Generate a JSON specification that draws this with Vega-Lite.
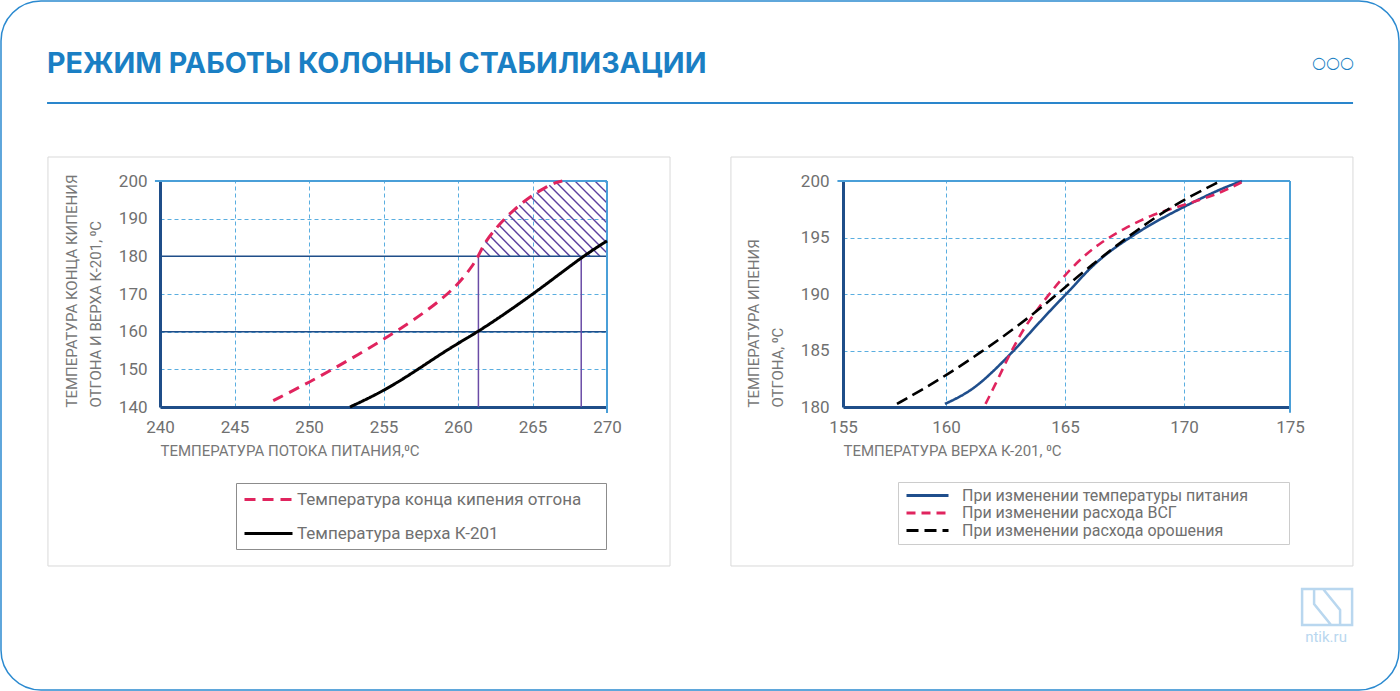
{
  "$schema": "https://vega.github.io/schema/vega-lite/v6.json",
  "width": 1398,
  "height": 689,
  "padding": 1,
  "autosize": {"type": "none"},
  "background": "white",
  "config": {
    "font": "Roboto",
    "view": {"stroke": "#2b8ad0", "strokeWidth": 1.5, "cornerRadius": 40},
    "axis": {"labelFont": "Roboto", "labelFontSize": 17, "labelColor": "#707070", "titleFont": "Roboto", "titleFontSize": 15, "titleColor": "#777777", "titleFontWeight": "normal", "labelFlush": false, "labelOverlap": false}
  },
  "title": {"text": "РЕЖИМ РАБОТЫ КОЛОННЫ СТАБИЛИЗАЦИИ", "anchor": "start", "frame": "group", "orient": "top", "offset": -101, "baseline": "alphabetic", "dx": 46, "fontSize": 28.6, "fontWeight": "bold", "color": "#1a7fc4", "font": "Inter"},
  "datasets": {
    "left": [
      {"series": "Температура конца кипения отгона", "x": 247.6, "y": 141.7},
      {"series": "Температура конца кипения отгона", "x": 250.0, "y": 146.5},
      {"series": "Температура конца кипения отгона", "x": 252.75, "y": 152.6},
      {"series": "Температура конца кипения отгона", "x": 255.5, "y": 159.1},
      {"series": "Температура конца кипения отгона", "x": 258.0, "y": 165.7},
      {"series": "Температура конца кипения отгона", "x": 259.9, "y": 171.9},
      {"series": "Температура конца кипения отгона", "x": 261.0, "y": 177.6},
      {"series": "Температура конца кипения отгона", "x": 261.4, "y": 180.3},
      {"series": "Температура конца кипения отгона", "x": 261.8, "y": 183.8},
      {"series": "Температура конца кипения отгона", "x": 262.8, "y": 188.7},
      {"series": "Температура конца кипения отгона", "x": 263.7, "y": 192.2},
      {"series": "Температура конца кипения отгона", "x": 264.8, "y": 195.8},
      {"series": "Температура конца кипения отгона", "x": 265.9, "y": 198.4},
      {"series": "Температура конца кипения отгона", "x": 266.6, "y": 199.7},
      {"series": "Температура конца кипения отгона", "x": 267.0, "y": 200.0},
      {"series": "Температура верха К-201", "x": 252.75, "y": 140.0},
      {"series": "Температура верха К-201", "x": 254.95, "y": 144.1},
      {"series": "Температура верха К-201", "x": 257.1, "y": 149.4},
      {"series": "Температура верха К-201", "x": 259.3, "y": 155.3},
      {"series": "Температура верха К-201", "x": 261.4, "y": 160.1},
      {"series": "Температура верха К-201", "x": 263.5, "y": 165.7},
      {"series": "Температура верха К-201", "x": 265.7, "y": 171.9},
      {"series": "Температура верха К-201", "x": 268.3, "y": 179.8},
      {"series": "Температура верха К-201", "x": 270.0, "y": 184.1}
    ],
    "hatch": [
      {"x": 261.62, "y": 182.18, "x2": 262.15, "y2": 180},
      {"x": 261.83, "y": 183.99, "x2": 262.82, "y2": 180},
      {"x": 262.13, "y": 185.45, "x2": 263.49, "y2": 180},
      {"x": 262.43, "y": 186.91, "x2": 264.16, "y2": 180},
      {"x": 262.73, "y": 188.39, "x2": 264.83, "y2": 180},
      {"x": 263.06, "y": 189.75, "x2": 265.50, "y2": 180},
      {"x": 263.40, "y": 191.05, "x2": 266.17, "y2": 180},
      {"x": 263.74, "y": 192.35, "x2": 266.85, "y2": 180},
      {"x": 264.11, "y": 193.57, "x2": 267.52, "y2": 180},
      {"x": 264.48, "y": 194.77, "x2": 268.19, "y2": 180},
      {"x": 264.85, "y": 195.93, "x2": 268.86, "y2": 180},
      {"x": 265.27, "y": 196.94, "x2": 269.53, "y2": 180},
      {"x": 265.69, "y": 197.93, "x2": 270.0, "y2": 180.88},
      {"x": 266.13, "y": 198.85, "x2": 270.0, "y2": 183.54},
      {"x": 266.59, "y": 199.67, "x2": 270.0, "y2": 186.19},
      {"x": 267.18, "y": 200.0, "x2": 270.0, "y2": 188.85},
      {"x": 267.85, "y": 200.0, "x2": 270.0, "y2": 191.50},
      {"x": 268.52, "y": 200.0, "x2": 270.0, "y2": 194.16},
      {"x": 269.19, "y": 200.0, "x2": 270.0, "y2": 196.81},
      {"x": 269.87, "y": 200.0, "x2": 270.0, "y2": 199.47}
    ],
    "levels": [{"y": 160}, {"y": 180}],
    "cuts": [{"x": 261.37}, {"x": 268.27}],
    "right": [
      {"series": "При изменении температуры питания", "x": 159.95, "y": 180.27},
      {"series": "При изменении температуры питания", "x": 160.98, "y": 181.3},
      {"series": "При изменении температуры питания", "x": 161.87, "y": 182.9},
      {"series": "При изменении температуры питания", "x": 162.86, "y": 185.0},
      {"series": "При изменении температуры питания", "x": 163.67, "y": 186.9},
      {"series": "При изменении температуры питания", "x": 164.47, "y": 188.75},
      {"series": "При изменении температуры питания", "x": 165.29, "y": 190.5},
      {"series": "При изменении температуры питания", "x": 165.95, "y": 192.1},
      {"series": "При изменении температуры питания", "x": 166.75, "y": 193.6},
      {"series": "При изменении температуры питания", "x": 167.72, "y": 195.0},
      {"series": "При изменении температуры питания", "x": 168.63, "y": 196.2},
      {"series": "При изменении температуры питания", "x": 169.70, "y": 197.4},
      {"series": "При изменении температуры питания", "x": 170.73, "y": 198.4},
      {"series": "При изменении температуры питания", "x": 171.80, "y": 199.35},
      {"series": "При изменении температуры питания", "x": 172.73, "y": 200.0},
      {"series": "При изменении расхода ВСГ", "x": 161.66, "y": 180.27},
      {"series": "При изменении расхода ВСГ", "x": 162.10, "y": 182.1},
      {"series": "При изменении расхода ВСГ", "x": 162.49, "y": 183.86},
      {"series": "При изменении расхода ВСГ", "x": 162.88, "y": 185.48},
      {"series": "При изменении расхода ВСГ", "x": 163.36, "y": 187.25},
      {"series": "При изменении расхода ВСГ", "x": 163.92, "y": 188.87},
      {"series": "При изменении расхода ВСГ", "x": 164.47, "y": 190.34},
      {"series": "При изменении расхода ВСГ", "x": 165.03, "y": 191.75},
      {"series": "При изменении расхода ВСГ", "x": 165.74, "y": 193.28},
      {"series": "При изменении расхода ВСГ", "x": 166.53, "y": 194.6},
      {"series": "При изменении расхода ВСГ", "x": 167.48, "y": 195.79},
      {"series": "При изменении расхода ВСГ", "x": 168.60, "y": 196.97},
      {"series": "При изменении расхода ВСГ", "x": 169.70, "y": 197.7},
      {"series": "При изменении расхода ВСГ", "x": 170.73, "y": 198.3},
      {"series": "При изменении расхода ВСГ", "x": 171.80, "y": 199.03},
      {"series": "При изменении расхода ВСГ", "x": 172.73, "y": 199.9},
      {"series": "При изменении расхода орошения", "x": 157.62, "y": 180.27},
      {"series": "При изменении расхода орошения", "x": 158.75, "y": 181.44},
      {"series": "При изменении расхода орошения", "x": 160.03, "y": 182.83},
      {"series": "При изменении расхода орошения", "x": 161.46, "y": 184.83},
      {"series": "При изменении расхода орошения", "x": 162.88, "y": 186.95},
      {"series": "При изменении расхода орошения", "x": 164.31, "y": 189.3},
      {"series": "При изменении расхода орошения", "x": 165.26, "y": 191.08},
      {"series": "При изменении расхода орошения", "x": 166.21, "y": 192.7},
      {"series": "При изменении расхода орошения", "x": 167.17, "y": 194.3},
      {"series": "При изменении расхода орошения", "x": 168.12, "y": 195.79},
      {"series": "При изменении расхода орошения", "x": 169.23, "y": 197.4},
      {"series": "При изменении расхода орошения", "x": 170.38, "y": 198.73},
      {"series": "При изменении расхода орошения", "x": 171.62, "y": 199.9}
    ]
  },
  "layer": [
    {
      "resolve": {"axis": {"x": "independent", "y": "independent"}},
      "layer": [
        {
          "data": {"values": [{}]},
          "mark": {"type": "rect", "fill": "transparent", "stroke": "#d9d9d9", "strokeWidth": 1},
          "encoding": {
            "x": {"datum": 232.48, "type": "quantitative", "scale": {"domain": [240, 270], "range": [159, 606], "nice": false, "zero": false},
              "axis": {"orient": "top", "values": [245, 250, 255, 260, 265], "grid": true, "gridColor": "#5aaee0", "gridDash": [4, 3], "gridWidth": 1, "labels": false, "domain": false, "ticks": false, "title": null}},
            "x2": {"datum": 274.23},
            "y": {"datum": 206.37, "type": "quantitative", "scale": {"domain": [140, 200], "range": [406, 180], "nice": false, "zero": false}, "axis": null},
            "y2": {"datum": 97.79}
          }
        },
        {
          "data": {"values": [{}]},
          "mark": {"type": "rule", "stroke": "#2a86cc", "strokeWidth": 2},
          "encoding": {
            "x": {"datum": 232.42, "type": "quantitative", "scale": {"domain": [240, 270], "range": [159, 606], "nice": false, "zero": false}, "axis": null},
            "x2": {"datum": 320.07},
            "y": {"datum": 220.71, "type": "quantitative", "scale": {"domain": [140, 200], "range": [406, 180], "nice": false, "zero": false}, "axis": null}
          }
        },
        {
          "data": {"name": "hatch"},
          "mark": {"type": "rule", "stroke": "#5b3f9e", "strokeWidth": 1.4},
          "encoding": {
            "x": {"field": "x", "type": "quantitative", "scale": {"domain": [240, 270], "range": [159, 606], "nice": false, "zero": false}, "axis": null},
            "x2": {"field": "x2"},
            "y": {"field": "y", "type": "quantitative", "scale": {"domain": [140, 200], "range": [406, 180], "nice": false, "zero": false}, "axis": null},
            "y2": {"field": "y2"}
          }
        },
        {
          "data": {"name": "levels"},
          "mark": {"type": "rule", "stroke": "#1f4e89", "strokeWidth": 1.5},
          "encoding": {
            "x": {"datum": 240, "type": "quantitative", "scale": {"domain": [240, 270], "range": [159, 606], "nice": false, "zero": false}, "axis": null},
            "x2": {"datum": 270},
            "y": {"field": "y", "type": "quantitative", "scale": {"domain": [140, 200], "range": [406, 180], "nice": false, "zero": false}, "axis": null}
          }
        },
        {
          "data": {"name": "cuts"},
          "mark": {"type": "rule", "stroke": "#6a4ca6", "strokeWidth": 1.5},
          "encoding": {
            "x": {"field": "x", "type": "quantitative", "scale": {"domain": [240, 270], "range": [159, 606], "nice": false, "zero": false}, "axis": null},
            "y": {"datum": 140, "type": "quantitative", "scale": {"domain": [140, 200], "range": [406, 180], "nice": false, "zero": false}, "axis": null},
            "y2": {"datum": 180}
          }
        },
        {
          "data": {"values": [{}]},
          "mark": {"type": "rule", "stroke": "#4a9fd8", "strokeWidth": 2},
          "encoding": {
            "x": {"datum": 239.66, "type": "quantitative", "scale": {"domain": [240, 270], "range": [159, 606], "nice": false, "zero": false}, "axis": null},
            "x2": {"datum": 270},
            "y": {"datum": 200, "type": "quantitative", "scale": {"domain": [140, 200], "range": [406, 180], "nice": false, "zero": false}, "axis": null}
          }
        },
        {
          "data": {"values": [{}]},
          "mark": {"type": "rule", "stroke": "#4a9fd8", "strokeWidth": 2},
          "encoding": {
            "x": {"datum": 270, "type": "quantitative", "scale": {"domain": [240, 270], "range": [159, 606], "nice": false, "zero": false}, "axis": null},
            "y": {"datum": 138.4, "type": "quantitative", "scale": {"domain": [140, 200], "range": [406, 180], "nice": false, "zero": false}, "axis": null},
            "y2": {"datum": 200}
          }
        },
        {
          "data": {"name": "left"},
          "mark": {"type": "line", "strokeWidth": 3, "interpolate": "basis"},
          "encoding": {
            "x": {"field": "x", "type": "quantitative", "scale": {"domain": [240, 270], "range": [159, 606], "nice": false, "zero": false},
              "axis": {"orient": "bottom", "offset": -283, "values": [240, 245, 250, 255, 260, 265, 270], "domainColor": "#1f4e89", "domainWidth": 3, "ticks": false, "labelPadding": 12, "grid": false, "title": "ТЕМПЕРАТУРА ПОТОКА ПИТАНИЯ,⁰С", "titleAnchor": "start", "titlePadding": 8}},
            "y": {"field": "y", "type": "quantitative", "scale": {"domain": [140, 200], "range": [406, 180], "nice": false, "zero": false},
              "axis": {"orient": "left", "offset": -159, "values": [140, 150, 160, 170, 180, 190, 200], "domainColor": "#1f4e89", "domainWidth": 3, "ticks": false, "labelPadding": 13, "grid": true, "gridColor": "#5aaee0", "gridDash": [4, 3], "gridWidth": 1, "title": ["ТЕМПЕРАТУРА КОНЦА КИПЕНИЯ", "ОТГОНА И ВЕРХА К-201, ⁰С"], "titleAnchor": "start", "titlePadding": 15, "titleLineHeight": 24}},
            "color": {"field": "series", "type": "nominal",
              "scale": {"domain": ["Температура конца кипения отгона", "Температура верха К-201"], "range": ["#e0245e", "#000000"]},
              "legend": {"orient": "none", "legendX": 235, "legendY": 482, "title": null, "symbolType": "M-1,0H5", "symbolSize": 256, "symbolStrokeWidth": 3, "labelFontSize": 17, "labelColor": "#707070", "labelFont": "Roboto", "strokeColor": "#8c8c8c", "padding": 7, "rowPadding": 16, "labelOffset": 35, "labelLimit": 0, "labelExpr": "datum.label + '\u00a0\u00a0\u00a0\u00a0\u200b'"}},
            "strokeDash": {"field": "series", "type": "nominal",
              "scale": {"domain": ["Температура конца кипения отгона", "Температура верха К-201"], "range": [[11, 7], [1, 0]]},
              "legend": {"orient": "none", "legendX": 235, "legendY": 482, "title": null, "symbolType": "M-1,0H5", "symbolSize": 256, "symbolStrokeWidth": 3, "labelFontSize": 17, "labelColor": "#707070", "labelFont": "Roboto", "strokeColor": "#8c8c8c", "padding": 7, "rowPadding": 16, "labelOffset": 35, "labelLimit": 0, "labelExpr": "datum.label + '\u00a0\u00a0\u00a0\u00a0\u200b'"}}
          }
        }
      ]
    },
    {
      "resolve": {"axis": {"x": "independent", "y": "independent"}},
      "layer": [
        {
          "data": {"values": [{}]},
          "mark": {"type": "rect", "fill": "transparent", "stroke": "#d9d9d9", "strokeWidth": 1},
          "encoding": {
            "x": {"datum": 149.56, "type": "quantitative", "scale": {"domain": [155, 160, 165, 170, 175], "range": [842, 945, 1064, 1183, 1289], "nice": false, "zero": false},
              "axis": {"orient": "top", "values": [160, 165, 170], "grid": true, "gridColor": "#5aaee0", "gridDash": [4, 3], "gridWidth": 1, "labels": false, "domain": false, "ticks": false, "title": null}},
            "x2": {"datum": 177.97},
            "y": {"datum": 202.12, "type": "quantitative", "scale": {"domain": [180, 200], "range": [406, 180], "nice": false, "zero": false}, "axis": null},
            "y2": {"datum": 165.93}
          }
        },
        {
          "data": {"values": [{}]},
          "mark": {"type": "text", "text": "○○○", "font": "DejaVu Sans", "fontSize": 16, "color": "#1a7fc4", "align": "center", "baseline": "middle"},
          "encoding": {
            "x": {"datum": 177.03, "type": "quantitative", "scale": {"domain": [155, 160, 165, 170, 175], "range": [842, 945, 1064, 1183, 1289], "nice": false, "zero": false}, "axis": null},
            "y": {"datum": 210.44, "type": "quantitative", "scale": {"domain": [180, 200], "range": [406, 180], "nice": false, "zero": false}, "axis": null}
          }
        },
        {
          "data": {"values": [{}]},
          "mark": {"type": "text", "text": "ntik.ru", "font": "Roboto", "fontSize": 15, "color": "#b9d7ef", "align": "center", "baseline": "middle"},
          "encoding": {
            "x": {"datum": 176.70, "type": "quantitative", "scale": {"domain": [155, 160, 165, 170, 175], "range": [842, 945, 1064, 1183, 1289], "nice": false, "zero": false}, "axis": null},
            "y": {"datum": 159.65, "type": "quantitative", "scale": {"domain": [180, 200], "range": [406, 180], "nice": false, "zero": false}, "axis": null}
          }
        },
        {
          "data": {"values": [{}]},
          "mark": {"type": "point", "filled": false, "shape": "M-1,0.72V-0.72H-0.16L0.52,0.12V0.72Z M1,-0.72V0.72H0.16L-0.52,-0.12V-0.72Z", "size": 2500, "stroke": "#b9d7ef", "strokeWidth": 2.5, "opacity": 1},
          "encoding": {
            "x": {"datum": 176.75, "type": "quantitative", "scale": {"domain": [155, 160, 165, 170, 175], "range": [842, 945, 1064, 1183, 1289], "nice": false, "zero": false}, "axis": null},
            "y": {"datum": 162.3, "type": "quantitative", "scale": {"domain": [180, 200], "range": [406, 180], "nice": false, "zero": false}, "axis": null}
          }
        },
        {
          "data": {"values": [{}]},
          "mark": {"type": "rule", "stroke": "#4a9fd8", "strokeWidth": 2},
          "encoding": {
            "x": {"datum": 154.73, "type": "quantitative", "scale": {"domain": [155, 160, 165, 170, 175], "range": [842, 945, 1064, 1183, 1289], "nice": false, "zero": false}, "axis": null},
            "x2": {"datum": 175},
            "y": {"datum": 200, "type": "quantitative", "scale": {"domain": [180, 200], "range": [406, 180], "nice": false, "zero": false}, "axis": null}
          }
        },
        {
          "data": {"values": [{}]},
          "mark": {"type": "rule", "stroke": "#4a9fd8", "strokeWidth": 2},
          "encoding": {
            "x": {"datum": 175, "type": "quantitative", "scale": {"domain": [155, 160, 165, 170, 175], "range": [842, 945, 1064, 1183, 1289], "nice": false, "zero": false}, "axis": null},
            "y": {"datum": 179.5, "type": "quantitative", "scale": {"domain": [180, 200], "range": [406, 180], "nice": false, "zero": false}, "axis": null},
            "y2": {"datum": 200}
          }
        },
        {
          "data": {"name": "right"},
          "mark": {"type": "line", "strokeWidth": 2.6, "interpolate": "basis"},
          "encoding": {
            "x": {"field": "x", "type": "quantitative", "scale": {"domain": [155, 160, 165, 170, 175], "range": [842, 945, 1064, 1183, 1289], "nice": false, "zero": false},
              "axis": {"orient": "bottom", "offset": -283, "values": [155, 160, 165, 170, 175], "format": "d", "domainColor": "#1f4e89", "domainWidth": 3, "ticks": false, "labelPadding": 12, "grid": false, "title": "ТЕМПЕРАТУРА ВЕРХА К-201,  ⁰С", "titleAnchor": "start", "titlePadding": 8}},
            "y": {"field": "y", "type": "quantitative", "scale": {"domain": [180, 200], "range": [406, 180], "nice": false, "zero": false},
              "axis": {"orient": "left", "offset": -842, "values": [180, 185, 190, 195, 200], "format": "d", "domainColor": "#1f4e89", "domainWidth": 3, "ticks": false, "labelPadding": 14, "grid": true, "gridColor": "#5aaee0", "gridDash": [4, 3], "gridWidth": 1, "title": ["ТЕМПЕРАТУРА ИПЕНИЯ", "ОТГОНА, ⁰С"], "titleAnchor": "start", "titlePadding": 15, "titleLineHeight": 24}},
            "color": {"field": "series", "type": "nominal",
              "scale": {"domain": ["При изменении температуры питания", "При изменении расхода ВСГ", "При изменении расхода орошения"], "range": ["#1f4e8c", "#e0245e", "#000000"]},
              "legend": {"orient": "none", "legendX": 897, "legendY": 481, "title": null, "symbolType": "M-1,0H5", "symbolSize": 196, "symbolStrokeWidth": 3, "symbolOffset": 2, "labelFontSize": 16, "labelColor": "#707070", "labelFont": "Roboto", "strokeColor": "#cccccc", "padding": 5, "rowPadding": 0.5, "labelOffset": 40, "labelLimit": 0, "labelExpr": "datum.label + '\u00a0\u00a0\u00a0\u00a0\u00a0\u00a0\u00a0\u00a0\u00a0\u200b'"}},
            "strokeDash": {"field": "series", "type": "nominal",
              "scale": {"domain": ["При изменении температуры питания", "При изменении расхода ВСГ", "При изменении расхода орошения"], "range": [[1, 0], [9, 6], [12, 6]]},
              "legend": {"orient": "none", "legendX": 897, "legendY": 481, "title": null, "symbolType": "M-1,0H5", "symbolSize": 196, "symbolStrokeWidth": 3, "symbolOffset": 2, "labelFontSize": 16, "labelColor": "#707070", "labelFont": "Roboto", "strokeColor": "#cccccc", "padding": 5, "rowPadding": 0.5, "labelOffset": 40, "labelLimit": 0, "labelExpr": "datum.label + '\u00a0\u00a0\u00a0\u00a0\u00a0\u00a0\u00a0\u00a0\u00a0\u200b'"}}
          }
        }
      ]
    }
  ],
  "resolve": {"scale": {"x": "independent", "y": "independent", "color": "independent", "strokeDash": "independent"}}
}
